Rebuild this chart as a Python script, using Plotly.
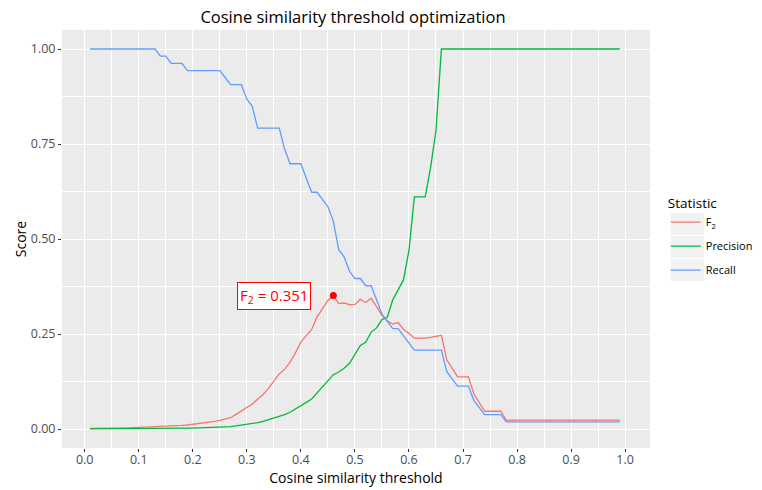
import plotly.graph_objects as go

# thresholds 0.01 .. 0.99
threshold = [round(0.01 * i, 2) for i in range(1, 100)]

precision = [
    0.0003, 0.0003, 0.0004, 0.0004, 0.0005, 0.0005, 0.0006, 0.0006, 0.0007, 0.0008,
    0.0009, 0.0010, 0.0011, 0.0012, 0.0013, 0.0015, 0.0017, 0.0019, 0.0021, 0.0024,
    0.0027, 0.0031, 0.0035, 0.0040, 0.0046, 0.0053, 0.0061, 0.0080, 0.0100, 0.0120,
    0.0140, 0.0170, 0.0200, 0.0240, 0.0290, 0.0340, 0.0380, 0.0440, 0.0520, 0.0620,
    0.0700, 0.0790, 0.0950, 0.1100, 0.1260, 0.1430, 0.1500, 0.1600, 0.1730, 0.1950,
    0.2200, 0.2280, 0.2550, 0.2660, 0.2880, 0.2940, 0.3400, 0.3660, 0.3930, 0.4700,
    0.6110, 0.6110, 0.6110, 0.6880, 0.7860, 1.0, 1.0, 1.0, 1.0, 1.0,
    1.0, 1.0, 1.0, 1.0, 1.0, 1.0, 1.0, 1.0, 1.0, 1.0,
    1.0, 1.0, 1.0, 1.0, 1.0, 1.0, 1.0, 1.0, 1.0, 1.0,
    1.0, 1.0, 1.0, 1.0, 1.0, 1.0, 1.0, 1.0, 1.0,
]

recall = [
    1.0, 1.0, 1.0, 1.0, 1.0, 1.0, 1.0, 1.0, 1.0, 1.0,
    1.0, 1.0, 1.0, 0.981, 0.981, 0.962, 0.962, 0.962, 0.943, 0.943,
    0.943, 0.943, 0.943, 0.943, 0.943, 0.925, 0.906, 0.906, 0.906, 0.868,
    0.849, 0.792, 0.792, 0.792, 0.792, 0.792, 0.736, 0.698, 0.698, 0.698,
    0.660, 0.623, 0.623, 0.604, 0.585, 0.547, 0.472, 0.453, 0.415, 0.396,
    0.396, 0.377, 0.377, 0.340, 0.302, 0.283, 0.264, 0.264, 0.245, 0.226,
    0.2075, 0.2075, 0.2075, 0.2075, 0.2075, 0.2075, 0.151, 0.132, 0.113, 0.113,
    0.113, 0.0755, 0.057, 0.0377, 0.0377, 0.0377, 0.0377, 0.0189, 0.0189, 0.0189,
    0.0189, 0.0189, 0.0189, 0.0189, 0.0189, 0.0189, 0.0189, 0.0189, 0.0189, 0.0189,
    0.0189, 0.0189, 0.0189, 0.0189, 0.0189, 0.0189, 0.0189, 0.0189, 0.0189,
]

f2 = [
    0.0015, 0.0015, 0.0020, 0.0020, 0.0025, 0.0025, 0.0030, 0.0030, 0.0035, 0.0040,
    0.0045, 0.0050, 0.0055, 0.0060, 0.0065, 0.0075, 0.0085, 0.0095, 0.0105, 0.0120,
    0.0135, 0.0155, 0.0175, 0.0199, 0.0228, 0.0259, 0.0297, 0.0386, 0.0479, 0.0569,
    0.0657, 0.0783, 0.0908, 0.1070, 0.1265, 0.1450, 0.1575, 0.1757, 0.2003, 0.2287,
    0.2457, 0.2620, 0.2950, 0.3180, 0.3384, 0.3510, 0.3300, 0.3316, 0.3270, 0.3280,
    0.3410, 0.3330, 0.3440, 0.3220, 0.2990, 0.2850, 0.2760, 0.2800, 0.2620, 0.2520,
    0.2390, 0.2390, 0.2390, 0.2410, 0.2433, 0.2466, 0.1820, 0.1600, 0.1370, 0.1370,
    0.1370, 0.0926, 0.0702, 0.0467, 0.0467, 0.0467, 0.0467, 0.0235, 0.0235, 0.0235,
    0.0235, 0.0235, 0.0235, 0.0235, 0.0235, 0.0235, 0.0235, 0.0235, 0.0235, 0.0235,
    0.0235, 0.0235, 0.0235, 0.0235, 0.0235, 0.0235, 0.0235, 0.0235, 0.0235,
]

best_threshold = 0.46
best_f2 = 0.351

series = [
    ("F<sub>2</sub>", f2, "#F8766D"),
    ("Precision", precision, "#00BA38"),
    ("Recall", recall, "#619CFF"),
]

fig = go.Figure()
for name, values, colour in series:
    fig.add_trace(go.Scatter(
        x=threshold,
        y=values,
        mode="lines",
        name=name,
        legendgroup=name,
        line=dict(color=colour, width=1.3),
    ))

fig.add_trace(go.Scatter(
    x=[best_threshold],
    y=[best_f2],
    mode="markers",
    marker=dict(color="red", size=7),
    showlegend=False,
    hoverinfo="skip",
))

fig.add_annotation(
    x=0.351, y=best_f2,
    text="F<sub>2</sub> = 0.351",
    showarrow=False,
    font=dict(color="red", size=15),
    bgcolor="white",
    bordercolor="red",
    borderwidth=1,
    borderpad=2,
)

# the page sits 8px lower than the figure, so the panel (screen y 30..448)
# is 22..440 in figure pixels
OFF = 8


def py(screen_y):
    return (448 - screen_y) / 418


# grey legend key backgrounds like ggplot
for i in range(3):
    fig.add_shape(
        type="rect", xref="paper", yref="paper",
        x0=(672 - 54) / 597, x1=(706 - 54) / 597,
        y0=py(213 + 23 * i), y1=py(235 + 23 * i),
        fillcolor="#F2F2F2", line=dict(width=0), layer="below",
    )

grid = "white"
fig.update_layout(
    width=762, height=490,
    margin=dict(l=54, r=111, t=30 - OFF, b=42 + OFF),
    paper_bgcolor="white",
    plot_bgcolor="#EBEBEB",
    font=dict(family="Open Sans", color="black"),
    title=dict(
        text="Cosine similarity threshold optimization",
        x=345 / 762, xanchor="center",
        y=1, yanchor="top", pad=dict(t=3, b=0),
        font=dict(size=16.5, color="black"),
    ),
    legend=dict(
        title=dict(text="Statistic", font=dict(size=13.5, color="black")),
        font=dict(size=11, color="black"),
        x=(667 - 54) / 597, xanchor="left",
        y=py(190), yanchor="top",
        bgcolor="rgba(0,0,0,0)",
        itemwidth=30,
        tracegroupgap=5,
    ),
    xaxis=dict(
        range=[-0.042, 1.046],
        tickmode="array",
        tickvals=[0.0, 0.1, 0.2, 0.3, 0.4, 0.5, 0.6, 0.7, 0.8, 0.9, 1.0],
        ticktext=["0.0", "0.1", "0.2", "0.3", "0.4", "0.5", "0.6", "0.7", "0.8", "0.9", "1.0"],
        ticks="outside", ticklen=3, tickcolor="#333333",
        ticklabelstandoff=-3,
        tickfont=dict(size=12.5, color="#4D4D4D"),
        showgrid=True, gridcolor=grid, gridwidth=1.2,
        minor=dict(dtick=0.1, tick0=0.05, showgrid=True, gridcolor=grid, gridwidth=0.6),
        zeroline=False, showline=False, automargin=False,
        title=dict(text="Cosine similarity threshold", font=dict(size=14, color="black"), standoff=0),
    ),
    yaxis=dict(
        range=[-0.05, 1.05],
        tickmode="array",
        tickvals=[0.0, 0.25, 0.5, 0.75, 1.0],
        ticktext=["0.00", "0.25", "0.50", "0.75", "1.00"],
        ticks="outside", ticklen=3, tickcolor="#333333",
        tickfont=dict(size=12.5, color="#4D4D4D"),
        showgrid=True, gridcolor=grid, gridwidth=1.2,
        minor=dict(dtick=0.25, tick0=0.125, showgrid=True, gridcolor=grid, gridwidth=0.6),
        zeroline=False, showline=False, automargin=False,
        title=dict(text="Score", font=dict(size=14, color="black"), standoff=0),
    ),
)

fig.write_html("out.html")
